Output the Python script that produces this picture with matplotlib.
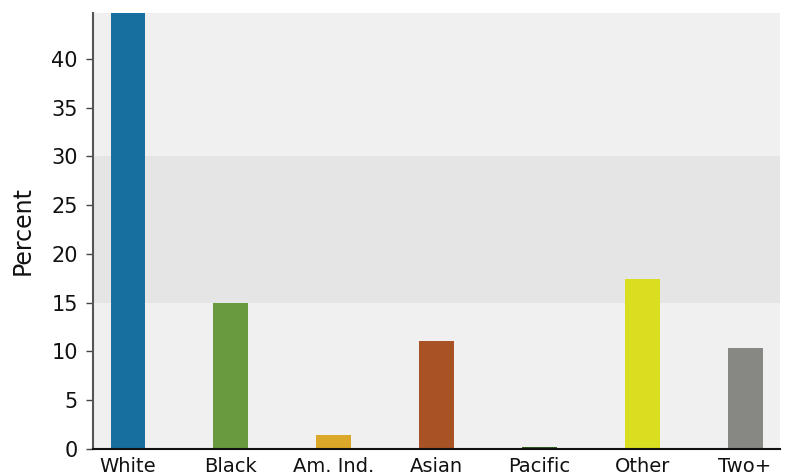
import numpy as np
import matplotlib
matplotlib.use('Agg')
import matplotlib.pyplot as plt

# data
categories = ['White', 'Black', 'Am. Ind.', 'Asian', 'Pacific', 'Other', 'Two+']
percent = [52.0, 15.0, 1.45, 11.1, 0.2, 17.4, 10.4]
bar_colors = ['#166f9e', '#6a9a40', '#dca82a', '#a85226', '#2e5a1d', '#d9de20', '#878783']
y_ticks = [0, 5, 10, 15, 20, 25, 30, 35, 40]

fig = plt.figure(figsize=(7.89, 4.72), dpi=100)
ax = fig.add_axes([0.1179, 0.0487, 0.8707, 0.9238])

ax.set_facecolor('#f0f0f0')
ax.axhspan(15, 30, color='#e5e5e5', zorder=0, lw=0)

x = np.arange(len(categories))
ax.bar(x, percent, width=0.34, color=bar_colors, zorder=2)

ax.set_xlim(-0.34, 6.34)
ax.set_ylim(0, 44.7)
ax.set_yticks(y_ticks)
ax.set_xticks(x)
ax.set_xticklabels(categories)
ax.set_ylabel('Percent', fontsize=17, color='#111111', labelpad=12)

ax.tick_params(axis='y', labelsize=15, length=5, width=1, pad=6, color='#444444', labelcolor='#111111')
ax.tick_params(axis='x', labelsize=14, length=0, pad=6, labelcolor='#111111')

for side in ['top', 'right']:
	ax.spines[side].set_visible(False)
ax.spines['left'].set_color('#555555')
ax.spines['left'].set_linewidth(1.5)
ax.spines['bottom'].set_color('#111111')
ax.spines['bottom'].set_linewidth(1.5)
ax.spines['bottom'].set_zorder(3)

fig.savefig('out.png', dpi=100)
